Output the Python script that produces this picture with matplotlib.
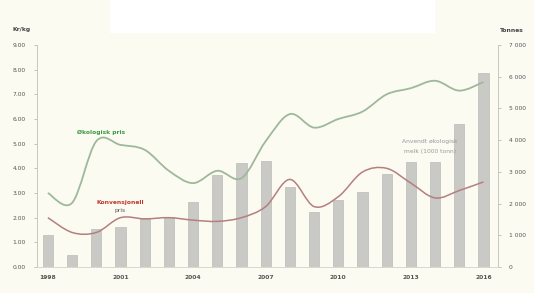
import matplotlib
matplotlib.use("Agg")
import matplotlib.pyplot as plt
from matplotlib.path import Path
from matplotlib.patches import PathPatch, Rectangle
from matplotlib.ticker import FuncFormatter

years = list(range(1998, 2017))
volume_tonnes = [1010, 380, 1210, 1270, 1530, 1590, 2040, 2900, 3280, 3340,
                 2520, 1720, 2100, 2360, 2930, 3310, 3310, 4520, 6110]
organic_price = [3.0, 2.6, 5.1, 4.95, 4.75, 3.9, 3.4, 3.9, 3.6, 5.1,
                 6.2, 5.65, 6.0, 6.3, 7.0, 7.25, 7.55, 7.15, 7.5]
conventional_price = [2.0, 1.4, 1.4, 2.0, 1.95, 2.0, 1.9, 1.85, 2.0, 2.45,
                      3.55, 2.45, 2.85, 3.85, 4.0, 3.4, 2.8, 3.1, 3.45]
year_ticks = [1998, 2001, 2004, 2007, 2010, 2013, 2016]
left_ticks = [0, 1, 2, 3, 4, 5, 6, 7, 8, 9]
right_ticks = [0, 1000, 2000, 3000, 4000, 5000, 6000, 7000]

BG = "#fbfbf2"
fig = plt.figure(figsize=(5.34, 2.93), dpi=100, facecolor=BG)
fig.patches.append(Rectangle((110 / 534, 1 - 33 / 293), (435 - 110) / 534, 33 / 293,
                             transform=fig.transFigure, facecolor="white",
                             edgecolor="none", zorder=0))
ax = fig.add_axes([37 / 534, 1 - 267 / 293, (498 - 37) / 534, (267 - 45) / 293])
ax.set_facecolor(BG)
ax2 = ax.twinx()
ax.set_zorder(ax2.get_zorder() + 1)
ax.patch.set_visible(False)

ax2.bar(years, volume_tonnes, width=0.42, color="#c9c9c5", edgecolor="#bdbdb8",
        linewidth=0.5)
ax2.set_ylim(0, 7000)
ax.set_ylim(0, 9)
ax.set_xlim(1997.55, 2016.6)


def smooth_path(xs, ys):
    pts = list(zip(xs, ys))
    verts = [pts[0]]
    codes = [Path.MOVETO]
    n = len(pts)
    for i in range(n - 1):
        p0 = pts[i - 1] if i > 0 else pts[i]
        p1 = pts[i]
        p2 = pts[i + 1]
        p3 = pts[i + 2] if i + 2 < n else pts[i + 1]
        c1 = (p1[0] + (p2[0] - p0[0]) / 6, p1[1] + (p2[1] - p0[1]) / 6)
        c2 = (p2[0] - (p3[0] - p1[0]) / 6, p2[1] - (p3[1] - p1[1]) / 6)
        verts += [c1, c2, p2]
        codes += [Path.CURVE4] * 3
    return Path(verts, codes)


ax.add_patch(PathPatch(smooth_path(years, organic_price), fill=False,
                       edgecolor="#9fb89c", linewidth=1.3))
ax.add_patch(PathPatch(smooth_path(years, conventional_price), fill=False,
                       edgecolor="#b57f7f", linewidth=1.1))

fs = 4.3
tcol = "#555555"
ax.set_xticks(year_ticks)
ax.set_xticklabels([str(y) for y in year_ticks], fontsize=fs, color=tcol,
                   fontweight="bold")
ax.set_yticks(left_ticks)
ax.set_yticklabels([f"{v:.2f}" for v in left_ticks], fontsize=fs, color=tcol)
ax2.set_yticks(right_ticks)
ax2.yaxis.set_major_formatter(FuncFormatter(lambda v, p: f"{int(v):,}".replace(",", " ")))
ax2.tick_params(axis="y", labelsize=fs, labelcolor=tcol, length=2, width=0.5,
                color="#aaaaaa", pad=6)
ax.tick_params(axis="y", length=2, width=0.5, color="#aaaaaa", pad=6)
ax.tick_params(axis="x", length=0, pad=6)

for a in (ax, ax2):
    for s in ("top",):
        a.spines[s].set_visible(False)
    a.spines["bottom"].set_color("#d8d8d0")
    a.spines["bottom"].set_linewidth(0.6)
    a.spines["left"].set_color("#c8c8c0")
    a.spines["right"].set_color("#c8c8c0")
    a.spines["left"].set_linewidth(0.6)
    a.spines["right"].set_linewidth(0.6)

fig.text(22 / 534, 1 - 30 / 293, "Kr/kg", fontsize=fs, color="#444444",
         fontweight="bold", ha="center", va="center")
fig.text(512 / 534, 1 - 31 / 293, "Tonnes", fontsize=fs, color="#444444",
         fontweight="bold", ha="center", va="center")

ax.text(2000.2, 5.45, "Økologisk pris", fontsize=fs, color="#3f9a46",
        fontweight="bold", ha="center", va="center")
ax.text(2001.0, 2.61, "Konvensjonell", fontsize=fs, color="#c0392b",
        fontweight="bold", ha="center", va="center")
ax.text(2001.0, 2.28, "pris", fontsize=fs, color="#555555",
        ha="center", va="center")
ax.text(2013.8, 5.1, "Anvendt økologisk", fontsize=fs, color="#999999",
        ha="center", va="center")
ax.text(2013.8, 4.7, "melk (1000 tonn)", fontsize=fs, color="#999999",
        ha="center", va="center")

fig.savefig("out.png", dpi=100, facecolor=BG)
